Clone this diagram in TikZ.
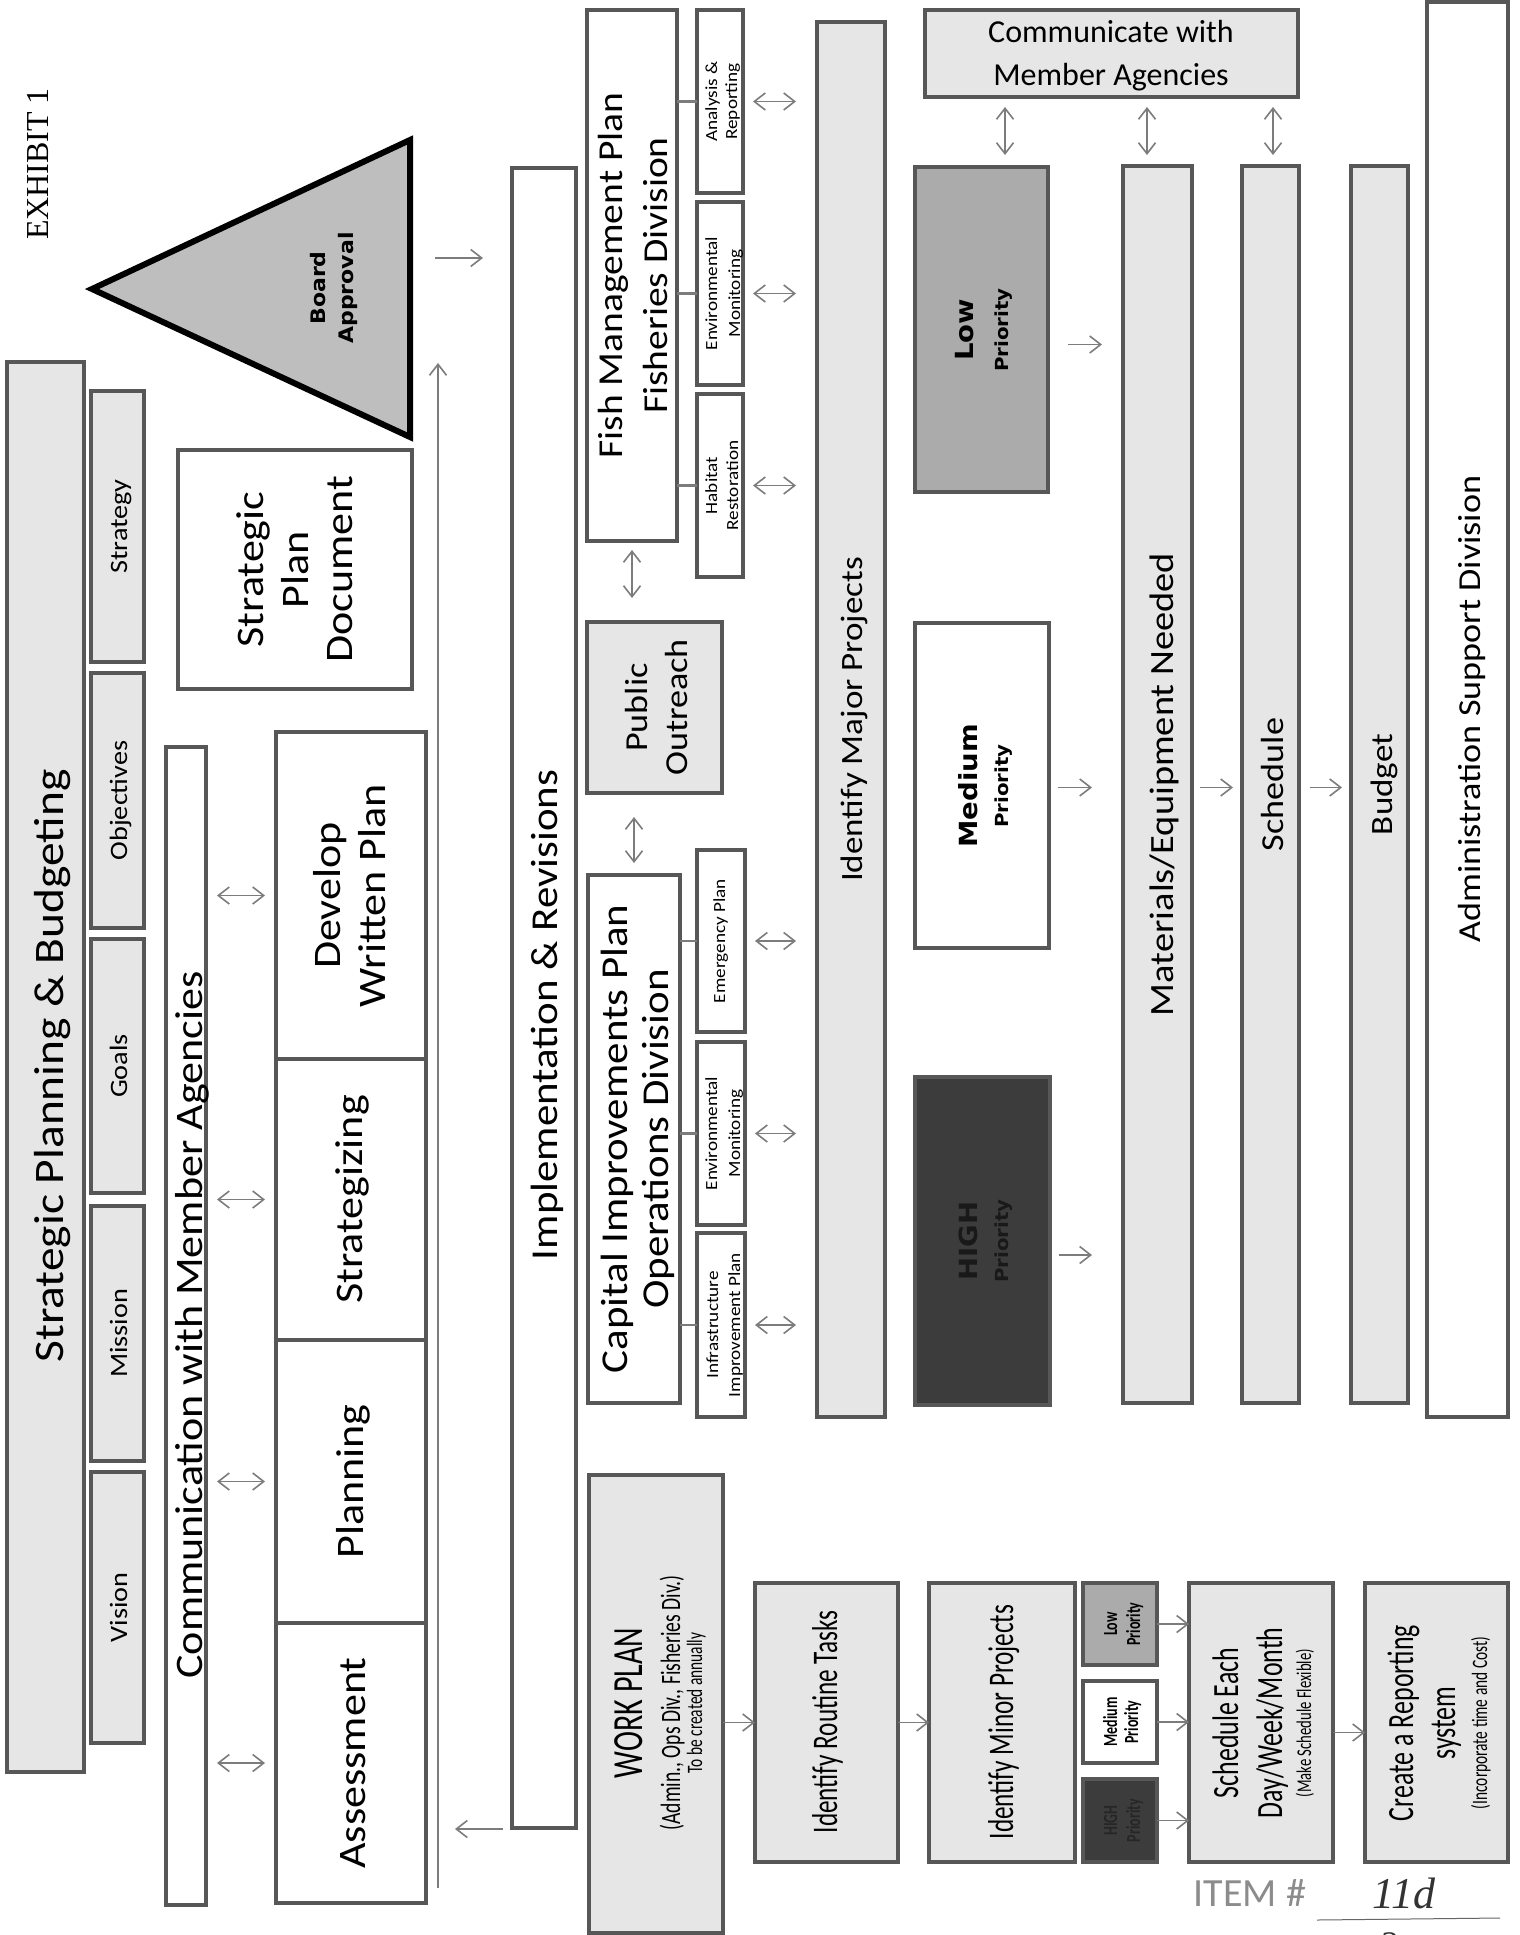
\documentclass[tikz,border=0pt]{standalone}
\usepackage{fontspec}
\setmainfont{Carlito}
\newfontfamily\calwide[FakeStretch=1.13]{Carlito}
\newfontfamily\calcond[FakeStretch=0.7]{Carlito}
\newfontfamily\dvwide[FakeStretch=1.1]{DejaVu Sans}
\newfontfamily\timesf{Liberation Serif}
\usetikzlibrary{arrows.meta,fit}
\definecolor{bord}{HTML}{575757}
\definecolor{lfill}{HTML}{E6E6E6}
\definecolor{mfill}{HTML}{ABABAB}
\definecolor{dfill}{HTML}{3C3C3C}
\definecolor{agray}{HTML}{7C7C7C}
\definecolor{trifill}{HTML}{BEBEBE}
\newcommand\fntW[1]{\calwide\fontsize{#1}{#1}\selectfont}
\newcommand\fntC[1]{\calcond\fontsize{#1}{#1}\selectfont}
\newcommand\fntCB[1]{\calcond\bfseries\fontsize{#1}{#1}\selectfont}
\newcommand\fntB[1]{\dvwide\bfseries\fontsize{#1}{#1}\selectfont}
\newcommand\fntN[1]{\fontsize{#1}{#1}\selectfont}
\begin{document}
\begin{tikzpicture}[x=1pt,y=-1pt,
  box/.style={draw=bord,line width=4pt,inner sep=0pt,outer sep=0pt},
  lb/.style={box,fill=lfill},
  wb/.style={box,fill=white},
  rt/.style={rotate=90,anchor=base,inner sep=0pt,outer sep=0pt},
  ht/.style={anchor=base,inner sep=0pt,outer sep=0pt},
  arr/.style={draw=agray,line width=1.6pt,-{Straight Barb[length=11pt,width=17pt]}},
  darr/.style={draw=agray,line width=1.6pt,{Straight Barb[length=11pt,width=17pt]}-{Straight Barb[length=11pt,width=17pt]}},
  link/.style={draw=agray,line width=2.2pt}]
\fill[white] (0,0) rectangle (1519,1935);
\useasboundingbox (0,0) rectangle (1519,1935);

% Exhibit label
\node[rt,font=\timesf\fontsize{32}{32}\selectfont] (exh) at (48,164) {EXHIBIT 1};

% Board approval triangle
\filldraw[draw=black,fill=trifill,line width=6pt,line join=miter] (92,289) -- (410,140) -- (410,437) -- cycle;
\coordinate (triBase) at (410,258);
\node[rt,font=\fntB{20}] (ba1) at (325,288) {Board};
\node[rt,font=\fntB{20}] (ba2) at (353,288) {Approval};

% Strategic planning & budgeting
\node[lb,fit={(7,362) (84,1772)}] (spb) {};
\node[rt,font=\fntW{42}] (spbT) at (63,1066) {Strategic Planning \& Budgeting};
\node[lb,fit={(91,391) (144,662)}] (strat) {};
\node[lb,fit={(91,673) (144,928)}] (obj) {};
\node[lb,fit={(91,939) (144,1193)}] (goals) {};
\node[lb,fit={(91,1206) (144,1461)}] (miss) {};
\node[lb,fit={(91,1472) (144,1743)}] (vis) {};
\node[rt,font=\fntW{25}] (stratT) at (127,526.5) {Strategy};
\node[rt,font=\fntW{25}] (objT) at (127,800.5) {Objectives};
\node[rt,font=\fntW{25}] (goalsT) at (127,1066) {Goals};
\node[rt,font=\fntW{25}] (missT) at (127,1333.5) {Mission};
\node[rt,font=\fntW{25}] (visT) at (127,1607.5) {Vision};

% Communication
\node[wb,fit={(166,747) (206,1905)}] (comm) {};
\node[rt,font=\fntW{39}] (commT) at (202,1325) {Communication with Member Agencies};

% Stages
\node[wb,fit={(276,732) (426,1059)}] (dev) {};
\node[wb,fit={(276,1059) (426,1340)}] (strz) {};
\node[wb,fit={(276,1340) (426,1623)}] (plan) {};
\node[wb,fit={(276,1623) (426,1903)}] (assess) {};
\node[rt,font=\fntW{39}] (devT1) at (340,895.5) {Develop};
\node[rt,font=\fntW{39}] (devT2) at (385,895.5) {Written Plan};
\node[rt,font=\fntW{39}] (strzT) at (362,1199.5) {Strategizing};
\node[rt,font=\fntW{39}] (planT) at (363,1481.5) {Planning};
\node[rt,font=\fntW{39}] (assessT) at (365,1763) {Assessment};
\foreach \s in {dev,strz,plan,assess}
  \draw[darr,shorten <=11pt,shorten >=11pt] (\s.west -| comm.east) -- (\s.west);

% Strategic plan document
\node[wb,fit={(178,450) (412,689)}] (spd) {};
\node[rt,font=\fntW{39}] (spdT1) at (263,569.5) {Strategic};
\node[rt,font=\fntW{39}] (spdT2) at (308,569.5) {Plan};
\node[rt,font=\fntW{39}] (spdT3) at (352,569.5) {Document};

% Implementation
\node[wb,fit={(512,168) (576,1828)}] (impl) {};
\node[rt,font=\fntW{38}] (implT) at (557,1015) {Implementation \& Revisions};

% feedback arrows
\coordinate (fbBot) at (438,1888);
\coordinate (fbTop) at (438,363);
\draw[arr] (fbBot) -- (fbTop);
\draw[arr,shorten <=25pt,shorten >=29pt] (triBase) -- (triBase -| impl.west);
\coordinate (fbIn) at (438,1829);
\draw[arr,shorten <=9pt,shorten >=17pt] (fbIn -| impl.west) -- (fbIn);

% Capital improvements
\node[wb,fit={(588,875) (680,1403)}] (cap) {};
\node[rt,font=\fntW{38}] (capT1) at (627,1139) {Capital Improvements Plan};
\node[rt,font=\fntW{38}] (capT2) at (668,1139) {Operations Division};

% Public outreach
\node[lb,fit={(587,622) (722,793)}] (po) {};
\node[rt,font=\fntW{32}] (poT1) at (647,707.5) {Public};
\node[rt,font=\fntW{32}] (poT2) at (687,707.5) {Outreach};

% Fish management
\node[wb,fit={(587,10) (677,541)}] (fish) {};
\node[rt,font=\fntW{35}] (fishT1) at (622,275.5) {Fish Management Plan};
\node[rt,font=\fntW{35}] (fishT2) at (667,275.5) {Fisheries Division};

\draw[darr,shorten <=12pt,shorten >=24pt] (cap.north) -- (cap.north |- po.south);
\draw[darr,shorten <=24pt,shorten >=9pt] (fish.south |- po.north) -- (fish.south);

% sub boxes
\node[wb,fit={(697,10) (743,193)}] (ar) {};
\node[wb,fit={(697,202) (743,385)}] (em1) {};
\node[wb,fit={(697,394) (743,577)}] (hr) {};
\node[wb,fit={(697,850) (745,1032)}] (ep) {};
\node[wb,fit={(697,1042) (745,1225)}] (em2) {};
\node[wb,fit={(697,1233) (745,1417)}] (iip) {};
\node[rt,font=\fntW{17}] (arT1) at (717,101.5) {Analysis \&};
\node[rt,font=\fntW{17}] (arT2) at (737,101.5) {Reporting};
\node[rt,font=\fntW{17}] (em1T1) at (717,293.5) {Environmental};
\node[rt,font=\fntW{17}] (em1T2) at (740,293.5) {Monitoring};
\node[rt,font=\fntW{17}] (hrT1) at (717,485.5) {Habitat};
\node[rt,font=\fntW{17}] (hrT2) at (738,485.5) {Restoration};
\node[rt,font=\fntW{17}] (epT) at (725,941) {Emergency Plan};
\node[rt,font=\fntW{17}] (em2T1) at (717,1133.5) {Environmental};
\node[rt,font=\fntW{17}] (em2T2) at (740,1133.5) {Monitoring};
\node[rt,font=\fntW{17}] (iipT1) at (718,1325) {Infrastructure};
\node[rt,font=\fntW{17}] (iipT2) at (740,1325) {Improvement Plan};
\foreach \s in {ar,em1,hr} \draw[link] (\s.west -| fish.east) -- (\s.west);
\foreach \s in {ep,em2,iip} \draw[link] (\s.west -| cap.east) -- (\s.west);

% Identify major projects
\node[lb,fit={(817,22) (885,1417)}] (maj) {};
\node[rt,font=\fntW{31}] (majT) at (862,719.5) {Identify Major Projects};
\foreach \s in {ar,em1,hr,ep,em2,iip}
  \draw[darr,shorten <=10pt,shorten >=21pt] (\s.east) -- (\s.east -| maj.west);

% Communicate with member agencies
\node[lb,fit={(925,10) (1298,97)}] (cma) {};
\node[ht,font=\fntN{32}] (cmaT1) at (1111,43) {Communicate with};
\node[ht,font=\fntN{32}] (cmaT2) at (1111,85) {Member Agencies};

% priorities
\node[box,fill=mfill,fit={(915,167) (1048,492)}] (lowP) {};
\node[wb,fit={(915,623) (1049,948)}] (medP) {};
\node[box,fill=dfill,fit={(915,1077) (1050,1405)}] (highP) {};
\node[rt,font=\fntB{25}] (lowT1) at (973,330) {Low};
\node[rt,font=\fntB{18}] (lowT2) at (1008,330) {Priority};
\node[rt,font=\fntB{25}] (medT1) at (977,786) {Medium};
\node[rt,font=\fntB{18}] (medT2) at (1008,786) {Priority};
\node[rt,font=\fntB{25},text=black!90] (highT1) at (977,1241) {HIGH};
\node[rt,font=\fntB{18},text=black!90] (highT2) at (1008,1241) {Priority};

% right columns
\node[lb,fit={(1123,166) (1192,1403)}] (mat) {};
\node[lb,fit={(1242,166) (1299,1403)}] (sch) {};
\node[lb,fit={(1351,166) (1408,1403)}] (bud) {};
\node[wb,fit={(1427,2) (1508,1417)}] (adm) {};
\node[rt,font=\fntW{34}] (matT) at (1173,784.5) {Materials/Equipment Needed};
\node[rt,font=\fntW{32}] (schT) at (1283,784.5) {Schedule};
\node[rt,font=\fntW{31}] (budT) at (1392,784.5) {Budget};
\node[rt,font=\fntW{32}] (admT) at (1480,709) {Administration Support Division};

\draw[arr,shorten <=20pt,shorten >=21pt] ([yshift=-15pt]lowP.east) -- ([yshift=-15pt]lowP.east -| mat.west);
\draw[arr,shorten <=9pt,shorten >=31pt] ([yshift=-2pt]medP.east) -- ([yshift=-2pt]medP.east -| mat.west);
\draw[arr,shorten <=9pt,shorten >=31pt] ([yshift=-14pt]highP.east) -- ([yshift=-14pt]highP.east -| mat.west);
\draw[arr,shorten <=8pt,shorten >=9pt] ([yshift=-3pt]mat.east) -- ([yshift=-3pt]mat.east -| sch.west);
\draw[arr,shorten <=11pt,shorten >=9pt] ([yshift=-3pt]sch.east) -- ([yshift=-3pt]sch.east -| bud.west);

\draw[darr,shorten <=12pt,shorten >=10pt] ([xshift=23.5pt]lowP.north) -- ([xshift=23.5pt]lowP.north |- cma.south);
\draw[darr,shorten <=11pt,shorten >=10pt] ([xshift=-10.5pt]mat.north) -- ([xshift=-10.5pt]mat.north |- cma.south);
\draw[darr,shorten <=11pt,shorten >=10pt] ([xshift=2.5pt]sch.north) -- ([xshift=2.5pt]sch.north |- cma.south);

% Work plan section
\node[lb,fit={(589,1475) (723,1933)}] (wp) {};
\node[rt,font=\fntC{43}] (wpT1) at (642,1703) {WORK PLAN};
\node[rt,font=\fntC{28}] (wpT2) at (680,1703) {(Admin., Ops Div., Fisheries Div.)};
\node[rt,font=\fntC{22}] (wpT3) at (702,1703) {To be created annually};
\node[lb,fit={(755,1583) (898,1862)}] (rout) {};
\node[rt,font=\fntC{36}] (routT) at (837,1722) {Identify Routine Tasks};
\node[lb,fit={(929,1583) (1075,1862)}] (minor) {};
\node[rt,font=\fntC{36}] (minorT) at (1013,1722) {Identify Minor Projects};
\draw[arr] (rout.west -| wp.east) -- (rout.west);
\draw[arr] (rout.east) -- (minor.west);

\node[box,fill=mfill,fit={(1083,1583) (1157,1665)}] (lowS) {};
\node[wb,fit={(1083,1681) (1157,1763)}] (medS) {};
\node[box,fill=dfill,fit={(1083,1779) (1157,1862)}] (highS) {};
\node[rt,font=\fntCB{20}] (lowST1) at (1117,1624) {Low};
\node[rt,font=\fntCB{20}] (lowST2) at (1140,1624) {Priority};
\node[rt,font=\fntCB{20}] (medST1) at (1117,1722) {Medium};
\node[rt,font=\fntCB{20}] (medST2) at (1138,1722) {Priority};
\node[rt,font=\fntCB{20},text=black!85] (highST1) at (1117,1820.5) {HIGH};
\node[rt,font=\fntCB{20},text=black!85] (highST2) at (1140,1820.5) {Priority};

\node[lb,fit={(1189,1583) (1333,1862)}] (sed) {};
\node[rt,font=\fntC{37}] (sedT1) at (1238,1723) {Schedule Each};
\node[rt,font=\fntC{37}] (sedT2) at (1282,1723) {Day/Week/Month};
\node[rt,font=\fntC{21}] (sedT3) at (1311,1723) {(Make Schedule Flexible)};
\foreach \s in {lowS,medS,highS} \draw[arr] (\s.east) -- (\s.east -| sed.west);

\node[lb,fit={(1365,1583) (1508,1862)}] (crs) {};
\node[rt,font=\fntC{37}] (crsT1) at (1413,1723) {Create a Reporting};
\node[rt,font=\fntC{37}] (crsT2) at (1455,1723) {system};
\node[rt,font=\fntC{22}] (crsT3) at (1487,1723) {(Incorporate time and Cost)};
\draw[arr] ([yshift=-10pt]sed.east) -- ([yshift=-10pt]sed.east -| crs.west);

% stamp
\node[font=\fntN{40},text=black!45] (item) at (1250,1893) {ITEM \#};
\node[font=\timesf\itshape\fontsize{44}{44}\selectfont,text=black!80] (itemno) at (1404,1893) {11d};
\draw[black!60,line width=1pt] (1317,1920) -- (1500,1918);
\node[font=\timesf\itshape\fontsize{36}{36}\selectfont,text=black!80] (pg) at (1388,1945) {2};
\end{tikzpicture}
\end{document}
